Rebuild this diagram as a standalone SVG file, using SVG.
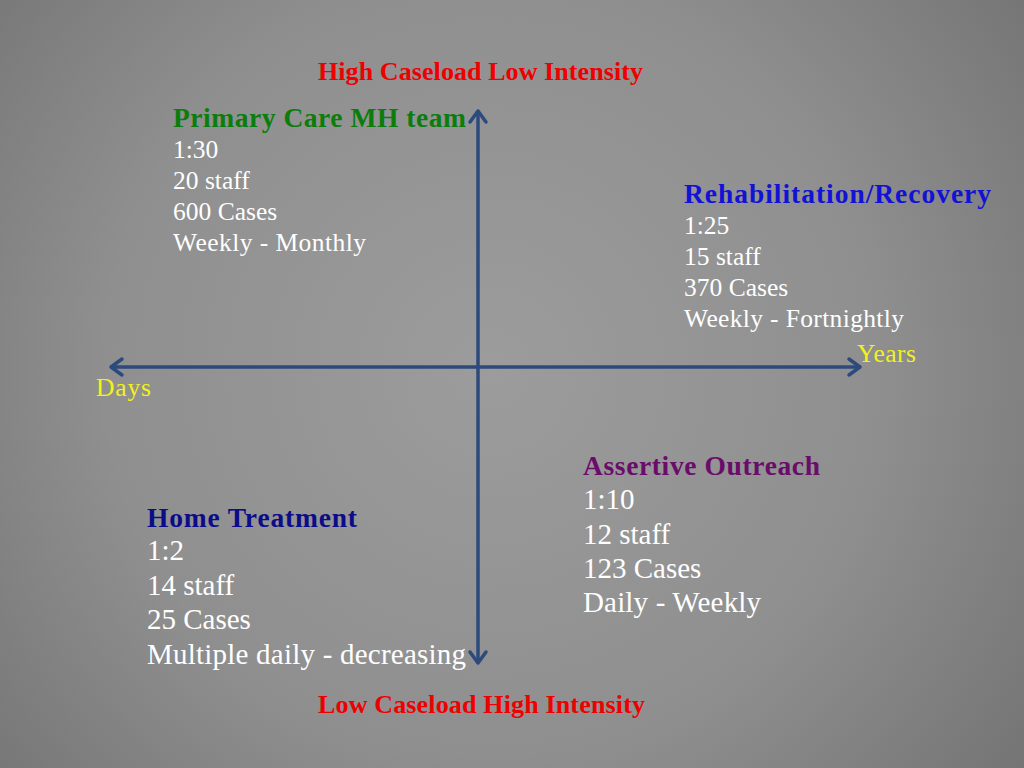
<svg xmlns="http://www.w3.org/2000/svg" width="1024" height="768" viewBox="0 0 1024 768">
<defs>
<radialGradient id="bg" cx="490" cy="370" r="700" gradientUnits="userSpaceOnUse">
<stop offset="0" stop-color="#9c9c9c"/>
<stop offset="0.55" stop-color="#8f8f8f"/>
<stop offset="1" stop-color="#717171"/>
</radialGradient>
<style>
text{font-family:"Liberation Serif","Times New Roman",serif;}
.h{font-weight:bold;}
.b{fill:#ffffff;}
.red{fill:#ee0000;font-weight:bold;font-size:26px;}
.axis{stroke:#2c4a7c;stroke-width:3.5;fill:none;stroke-linecap:round;stroke-linejoin:round;}
.yl{fill:#f2f21a;font-size:25.5px;}
</style>
</defs>
<rect width="1024" height="768" fill="url(#bg)"/>
<g id="connectors">
<line class="axis" x1="478" y1="112" x2="478" y2="661"/>
<polyline class="axis" points="470,122 478,111 486,122"/>
<polyline class="axis" points="470,652 478,663 486,652"/>
<line class="axis" x1="112" y1="367" x2="859" y2="367"/>
<polyline class="axis" points="122,359 111,367 122,375"/>
<polyline class="axis" points="849,359 860,367 849,375"/>
</g>
<g id="axis-top"><text class="red" x="318" y="80" textLength="325">High Caseload Low Intensity</text></g>
<g id="axis-bottom"><text class="red" x="318" y="713" textLength="327">Low Caseload High Intensity</text></g>
<g id="axis-left"><text class="yl" x="96" y="396" textLength="55">Days</text></g>
<g id="axis-right"><text class="yl" x="857" y="362" textLength="59">Years</text></g>
<g id="primary-care" font-size="25.5">
<text class="h" x="173" y="127" font-size="27.5" fill="#0a7d0a" textLength="293">Primary Care MH team</text>
<text class="b" x="173" y="158">1:30</text>
<text class="b" x="173" y="189">20 staff</text>
<text class="b" x="173" y="220">600 Cases</text>
<text class="b" x="173" y="251" textLength="193">Weekly - Monthly</text>
</g>
<g id="rehab" font-size="25.5">
<text class="h" x="684" y="203" font-size="27.5" fill="#1212d6" textLength="307">Rehabilitation/Recovery</text>
<text class="b" x="684" y="234">1:25</text>
<text class="b" x="684" y="265">15 staff</text>
<text class="b" x="684" y="296">370 Cases</text>
<text class="b" x="684" y="327" textLength="220">Weekly - Fortnightly</text>
</g>
<g id="assertive" font-size="29">
<text class="h" x="583" y="475" font-size="27.5" fill="#6a0c6a" textLength="237">Assertive Outreach</text>
<text class="b" x="583" y="509">1:10</text>
<text class="b" x="583" y="544">12 staff</text>
<text class="b" x="583" y="578">123 Cases</text>
<text class="b" x="583" y="612" textLength="178">Daily - Weekly</text>
</g>
<g id="home" font-size="29">
<text class="h" x="147" y="527" font-size="27.5" fill="#0c0c8a" textLength="210">Home Treatment</text>
<text class="b" x="147" y="560">1:2</text>
<text class="b" x="147" y="595">14 staff</text>
<text class="b" x="147" y="629">25 Cases</text>
<text class="b" x="147" y="664" textLength="319">Multiple daily - decreasing</text>
</g>
</svg>
